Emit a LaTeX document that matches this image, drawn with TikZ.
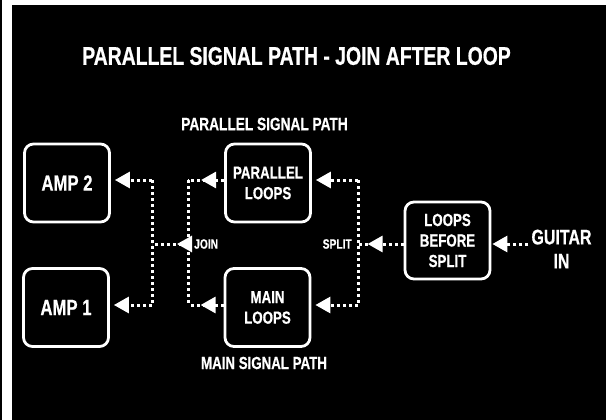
\documentclass[tikz,border=0pt]{standalone}
\usepackage{fontspec}
\setmainfont{Liberation Sans}[UprightFont={* Bold}, BoldFont={* Bold}, FakeStretch=0.76, FakeBold=0.6]
\usetikzlibrary{arrows.meta,decorations.markings,calc}
\begin{document}
\begin{tikzpicture}[x=1pt,y=-1pt,
  box/.style={draw=white, line width=2.8pt, rounded corners=9pt, fill=black, text=white,
    align=center, minimum width=85pt, minimum height=78pt, inner sep=0pt,
    font=\fontsize{17.5}{20.5}\selectfont},
  amp/.style={box, font=\fontsize{22}{24}\selectfont},
  lbl/.style={text=white, align=center, inner sep=0pt},
  small/.style={text=white, inner sep=0pt, font=\fontsize{13.5}{15}\selectfont},
  link/.style={draw=white, line width=3pt, dash pattern=on 3pt off 3pt},
  tip/.style={-{Triangle[length=15pt,width=16pt]}},
  arrmark/.style={postaction={decorate}, decoration={markings,
    mark=at position #1 with {\arrow[solid]{Triangle[length=15pt,width=16pt]}}}}
]
\useasboundingbox (0,0) rectangle (606,420);
\fill[white] (0,0) rectangle (606,420);
\fill[black] (0,0) rectangle (2,420);
\fill[black] (12,5) rectangle (606,420);

% titles
\node[lbl, font=\fontsize{25.5}{28}\selectfont] (title) at (296.5,56) {PARALLEL SIGNAL PATH - JOIN AFTER LOOP};
\node[lbl, font=\fontsize{18}{21}\selectfont] (ptitle) at (264.5,124) {PARALLEL SIGNAL PATH};
\node[lbl, font=\fontsize{17.5}{21}\selectfont] (mtitle) at (264,363) {MAIN SIGNAL PATH};

% boxes
\node[amp] (amp2) at (67,183) {AMP 2};
\node[box] (pl) at (268,183) {PARALLEL\\LOOPS};
\node[amp] (amp1) at (66,307.5) {AMP 1};
\node[box] (ml) at (267.5,307.5) {MAIN\\LOOPS};
\node[box, minimum height=77pt] (lbs) at (447.5,240.5) {LOOPS\\BEFORE\\SPLIT};
\node[lbl, inner sep=3pt, font=\fontsize{21}{24}\selectfont] (guitar) at (561.5,249) {GUITAR\\IN};

% small labels
\node[small, anchor=west] (join) at (194,244) {JOIN};
\node[small, anchor=east] (split) at (352,244) {SPLIT};

% junction coordinates
\coordinate (st) at (358,180);
\coordinate (sb) at (358,305);
\coordinate (sm) at (358,244);
\coordinate (jt) at (188,180);
\coordinate (jb) at (188,305);
\coordinate (jm) at (188,244);
\coordinate (at) at (152,180);
\coordinate (ab) at (152,305);
\coordinate (am) at (152,244);

% connectors
\draw[link, tip, shorten >=1pt] (guitar.west |- sm) -- (lbs.east |- sm);
\draw[link, arrmark=36pt] (lbs.west |- sm) -- (sm);
\draw[link] (st) -- (sb);
\draw[link, tip, shorten >=4pt] (st) -- (st -| pl.east);
\draw[link, tip, shorten >=4pt] (sb) -- (sb -| ml.east);
\draw[link] (jt) -- (jb);
\draw[link, arrmark=23pt] (pl.west |- jt) -- (jt);
\draw[link, arrmark=23pt] (ml.west |- jb) -- (jb);
\draw[link, arrmark=11pt] (jm) -- (am);
\draw[link] (at) -- (ab);
\draw[link, tip, shorten >=4pt] (at) -- (at -| amp2.east);
\draw[link, tip, shorten >=4pt] (ab) -- (ab -| amp1.east);
\end{tikzpicture}
\end{document}
